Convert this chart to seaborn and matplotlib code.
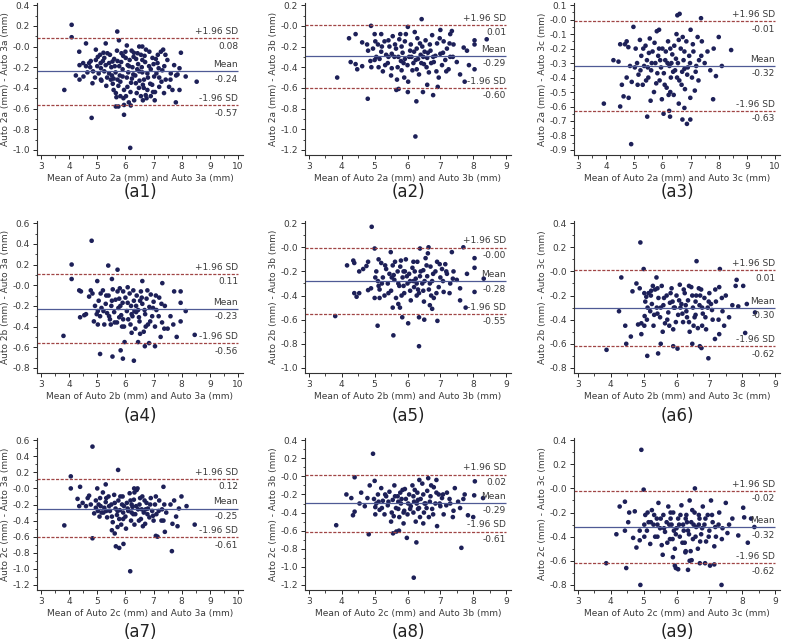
import numpy as np
import matplotlib
matplotlib.use("Agg")
import matplotlib.pyplot as plt
from matplotlib.ticker import MultipleLocator, FormatStrFormatter
import seaborn as sns

# Bland-Altman data: (mean of the two, difference)
a1_pts = [(4.09, 0.21), (4.09, 0.09), (5.71, 0.145), (5.77, 0.06), (3.83, -0.42), (4.8, -0.69), (6.17, -0.98),
          (5.95, -0.66), (8.53, -0.34), (7.97, -0.06), (8.14, -0.29), (7.79, -0.54), (7.92, -0.42), (7.92, -0.21),
          (5.66, -0.58), (5.75, -0.58), (6.19, -0.57), (5.95, -0.565), (4.6, 0.03), (5.3, 0.03), (6.05, 0.01),
          (6.49, 0.0), (6.6, 0.0), (7.34, -0.03), (4.36, -0.05), (4.37, -0.18), (4.24, -0.28), (4.37, -0.32),
          (4.51, -0.29), (4.6, -0.19), (4.71, -0.16), (4.77, -0.14), (4.83, -0.355), (4.95, -0.03), (5.0, -0.19),
          (5.13, -0.21), (5.13, -0.32), (5.25, -0.11), (5.36, -0.065), (5.42, -0.26), (5.48, -0.32), (5.54, -0.145),
          (5.58, -0.42), (5.66, -0.45), (5.72, -0.32), (5.78, -0.19), (5.86, -0.065), (5.9, -0.29), (5.93, -0.5),
          (6.01, -0.11), (6.07, -0.39), (6.13, -0.19), (6.23, -0.31), (6.29, -0.1), (6.31, -0.52), (6.37, -0.355),
          (6.43, -0.065), (6.49, -0.24), (6.55, -0.48), (6.6, -0.13), (6.66, -0.32), (6.73, -0.03), (6.78, -0.42),
          (6.84, -0.19), (6.9, -0.48), (6.96, -0.11), (7.02, -0.29), (7.04, -0.52), (7.14, -0.16), (7.2, -0.39),
          (7.26, -0.05), (7.31, -0.23), (7.37, -0.45), (7.43, -0.32), (7.49, -0.13), (7.55, -0.39), (7.61, -0.26),
          (7.67, -0.42), (7.73, -0.18), (7.85, -0.27), (5.2, -0.14), (5.25, -0.24), (5.3, -0.18), (5.35, -0.3),
          (5.45, -0.08), (5.5, -0.2), (5.55, -0.36), (5.6, -0.12), (5.65, -0.25), (5.7, -0.04), (5.75, -0.38),
          (5.8, -0.28), (5.85, -0.15), (5.9, -0.22), (5.95, -0.42), (6.0, -0.05), (6.05, -0.3), (6.1, -0.25),
          (6.15, -0.13), (6.2, -0.35), (6.25, -0.2), (6.3, -0.06), (6.35, -0.28), (6.4, -0.45), (6.45, -0.17),
          (6.5, -0.33), (6.55, -0.08), (6.6, -0.25), (6.65, -0.4), (6.7, -0.15), (6.75, -0.5), (6.8, -0.3),
          (6.85, -0.05), (6.9, -0.22), (6.95, -0.37), (7.0, -0.17), (7.05, -0.44), (7.1, -0.26), (7.15, -0.08),
          (7.2, -0.3), (5.05, -0.26), (5.1, -0.08), (5.15, -0.33), (4.95, -0.13), (4.85, -0.24), (4.75, -0.2),
          (4.65, -0.25), (4.5, -0.16), (6.02, -0.48), (6.12, -0.54), (5.82, -0.48), (6.62, -0.52), (6.72, -0.47),
          (7.42, -0.08), (7.6, -0.32), (7.8, -0.28), (5.22, -0.06), (5.32, -0.38), (5.42, -0.16), (5.52, -0.28),
          (5.62, -0.19), (5.72, -0.14), (5.82, -0.34), (5.92, -0.09), (6.08, -0.18), (6.18, -0.44), (6.28, -0.27),
          (6.38, -0.12), (6.48, -0.4), (6.58, -0.2), (6.68, -0.09), (6.78, -0.26), (6.88, -0.36), (6.98, -0.44),
          (7.08, -0.12), (7.18, -0.21), (7.28, -0.34), (7.38, -0.19), (4.92, -0.3), (5.02, -0.1), (5.12, -0.16),
          (6.22, -0.04), (6.42, -0.22), (6.62, -0.37), (5.58, -0.31), (5.68, -0.49)]

a2_pts = [(6.43, 0.065), (4.89, 0.0), (6.01, -0.01), (3.86, -0.5), (4.79, -0.705), (6.24, -1.07), (6.27, -0.73),
          (5.66, -0.62), (5.73, -0.61), (6.01, -0.64), (6.47, -0.64), (6.6, -0.57), (6.92, -0.59), (6.78, -0.67),
          (7.74, -0.54), (7.6, -0.47), (8.04, -0.14), (8.04, -0.18), (8.41, -0.13), (8.04, -0.42), (7.87, -0.38),
          (4.22, -0.12), (4.42, -0.08), (4.27, -0.35), (4.42, -0.37), (4.47, -0.42), (4.62, -0.16), (4.62, -0.39),
          (4.77, -0.18), (4.8, -0.24), (4.87, -0.34), (4.9, -0.4), (5.0, -0.08), (5.2, -0.08), (7.0, -0.04),
          (7.35, -0.05), (7.3, -0.08), (7.71, -0.21), (7.81, -0.24), (5.05, -0.3), (5.1, -0.18), (5.15, -0.32),
          (5.2, -0.25), (5.25, -0.44), (5.3, -0.15), (5.35, -0.28), (5.4, -0.36), (5.45, -0.2), (5.5, -0.48),
          (5.55, -0.1), (5.6, -0.3), (5.65, -0.22), (5.7, -0.4), (5.75, -0.13), (5.8, -0.34), (5.85, -0.26),
          (5.9, -0.5), (5.95, -0.08), (6.0, -0.38), (6.05, -0.3), (6.1, -0.18), (6.15, -0.43), (6.2, -0.25),
          (6.25, -0.33), (6.3, -0.12), (6.35, -0.47), (6.4, -0.28), (6.45, -0.2), (6.5, -0.37), (6.55, -0.14),
          (6.6, -0.31), (6.65, -0.45), (6.7, -0.24), (6.75, -0.09), (6.8, -0.35), (6.85, -0.29), (6.9, -0.17),
          (6.95, -0.5), (7.0, -0.27), (7.05, -0.38), (7.1, -0.15), (7.15, -0.33), (7.2, -0.22), (7.25, -0.42),
          (7.3, -0.3), (7.4, -0.18), (7.5, -0.35), (5.52, -0.27), (5.82, -0.2), (6.12, -0.3), (6.42, -0.36),
          (5.68, -0.52), (6.02, -0.54), (6.28, -0.22), (5.42, -0.3), (5.92, -0.32), (6.62, -0.26), (4.95, -0.22),
          (5.0, -0.33), (5.22, -0.2), (5.32, -0.38), (5.42, -0.14), (5.52, -0.41), (5.62, -0.18), (5.72, -0.3),
          (5.82, -0.43), (5.92, -0.15), (6.08, -0.24), (6.18, -0.36), (6.28, -0.42), (6.38, -0.17), (6.48, -0.3),
          (6.58, -0.4), (6.68, -0.18), (6.78, -0.3), (6.88, -0.44), (6.98, -0.12), (7.08, -0.26), (7.18, -0.44),
          (7.28, -0.17), (7.38, -0.3), (5.12, -0.4), (5.02, -0.15), (6.22, -0.06), (6.52, -0.25), (6.72, -0.36),
          (5.78, -0.08), (5.88, -0.36), (6.32, -0.32)]

a3_pts = [(6.53, 0.03), (6.61, 0.04), (7.37, 0.01), (4.97, -0.05), (3.92, -0.58), (4.89, -0.86), (4.5, -0.6),
          (4.62, -0.53), (4.8, -0.54), (5.46, -0.67), (6.24, -0.63), (6.04, -0.65), (6.27, -0.67), (6.71, -0.69),
          (6.87, -0.72), (6.99, -0.69), (6.78, -0.61), (6.99, -0.54), (7.15, -0.49), (7.8, -0.55), (8.44, -0.21),
          (8.0, -0.12), (7.82, -0.2), (7.9, -0.39), (8.11, -0.32), (4.26, -0.28), (4.44, -0.29), (4.5, -0.17),
          (4.67, -0.17), (4.73, -0.15), (4.79, -0.19), (4.56, -0.45), (4.73, -0.4), (4.91, -0.43), (4.85, -0.32),
          (5.05, -0.2), (5.1, -0.3), (5.15, -0.38), (5.2, -0.14), (5.25, -0.25), (5.3, -0.45), (5.35, -0.32),
          (5.4, -0.18), (5.45, -0.28), (5.5, -0.4), (5.55, -0.13), (5.6, -0.35), (5.65, -0.22), (5.7, -0.5),
          (5.75, -0.3), (5.8, -0.08), (5.85, -0.25), (5.9, -0.42), (5.95, -0.33), (6.0, -0.2), (6.05, -0.37),
          (6.1, -0.28), (6.15, -0.47), (6.2, -0.15), (6.25, -0.32), (6.3, -0.4), (6.35, -0.24), (6.4, -0.52),
          (6.45, -0.35), (6.5, -0.1), (6.55, -0.3), (6.6, -0.42), (6.65, -0.2), (6.7, -0.36), (6.75, -0.28),
          (6.8, -0.48), (6.85, -0.15), (6.9, -0.33), (6.95, -0.25), (7.0, -0.07), (7.05, -0.4), (7.1, -0.22),
          (7.2, -0.32), (7.3, -0.28), (7.4, -0.15), (7.5, -0.3), (7.6, -0.22), (7.7, -0.35), (5.58, -0.56),
          (5.98, -0.55), (6.28, -0.5), (6.58, -0.58), (5.88, -0.07), (6.12, -0.22), (5.48, -0.33), (6.42, -0.18),
          (6.78, -0.34), (7.25, -0.12), (5.22, -0.35), (5.32, -0.2), (5.42, -0.42), (5.52, -0.23), (5.62, -0.3),
          (5.72, -0.16), (5.82, -0.37), (5.92, -0.28), (6.08, -0.45), (6.18, -0.3), (6.28, -0.2), (6.38, -0.36),
          (6.48, -0.27), (6.58, -0.14), (6.68, -0.45), (6.78, -0.22), (6.88, -0.38), (6.98, -0.3), (7.08, -0.17),
          (7.18, -0.36), (7.28, -0.42), (7.38, -0.25), (5.12, -0.45), (5.02, -0.33), (6.22, -0.52), (6.52, -0.4),
          (6.72, -0.12), (5.78, -0.44), (5.88, -0.2), (6.32, -0.3)]

a4_pts = [(4.8, 0.43), (4.09, 0.2), (4.09, 0.06), (5.39, 0.19), (5.72, 0.15), (5.0, 0.04), (5.52, 0.06),
          (6.6, 0.04), (7.31, 0.02), (3.8, -0.49), (5.1, -0.665), (5.54, -0.69), (5.91, -0.71), (6.3, -0.73),
          (5.83, -0.63), (5.97, -0.55), (6.45, -0.55), (6.69, -0.59), (7.05, -0.59), (6.84, -0.56), (8.46, -0.48),
          (7.82, -0.5), (8.14, -0.25), (7.96, -0.06), (7.73, -0.06), (7.96, -0.17), (7.96, -0.35), (4.36, -0.05),
          (4.42, -0.06), (4.39, -0.31), (4.54, -0.29), (4.6, -0.28), (4.77, -0.05), (4.83, -0.08), (4.71, -0.11),
          (5.05, -0.15), (5.1, -0.3), (5.15, -0.22), (5.2, -0.05), (5.25, -0.38), (5.3, -0.18), (5.35, -0.27),
          (5.4, -0.1), (5.45, -0.33), (5.5, -0.2), (5.55, -0.04), (5.6, -0.26), (5.65, -0.14), (5.7, -0.36),
          (5.75, -0.22), (5.8, -0.03), (5.85, -0.29), (5.9, -0.17), (5.95, -0.4), (6.0, -0.12), (6.05, -0.25),
          (6.1, -0.33), (6.15, -0.08), (6.2, -0.2), (6.25, -0.3), (6.3, -0.15), (6.35, -0.42), (6.4, -0.1),
          (6.45, -0.24), (6.5, -0.35), (6.55, -0.06), (6.6, -0.18), (6.65, -0.45), (6.7, -0.28), (6.75, -0.13),
          (6.8, -0.38), (6.85, -0.21), (6.9, -0.09), (6.95, -0.3), (7.0, -0.16), (7.05, -0.4), (7.1, -0.24),
          (7.2, -0.12), (7.3, -0.36), (7.4, -0.2), (7.5, -0.42), (7.6, -0.3), (7.7, -0.38), (5.48, -0.38),
          (5.78, -0.31), (6.08, -0.02), (6.38, -0.26), (5.92, -0.06), (6.22, -0.46), (6.52, -0.47), (5.02, -0.25),
          (4.92, -0.2), (4.88, -0.35), (4.98, -0.28), (7.25, -0.5), (5.22, -0.25), (5.32, -0.1), (5.42, -0.3),
          (5.52, -0.15), (5.62, -0.36), (5.72, -0.06), (5.82, -0.2), (5.92, -0.33), (6.08, -0.17), (6.18, -0.38),
          (6.28, -0.05), (6.38, -0.2), (6.48, -0.31), (6.58, -0.12), (6.68, -0.24), (6.78, -0.05), (6.88, -0.35),
          (6.98, -0.22), (7.08, -0.1), (7.18, -0.3), (7.28, -0.18), (7.38, -0.42), (5.12, -0.08), (5.02, -0.38),
          (6.22, -0.28), (6.52, -0.15), (6.72, -0.4), (5.78, -0.13), (5.88, -0.4), (6.32, -0.25)]

a5_pts = [(4.91, 0.17), (5.0, -0.01), (5.49, -0.04), (6.38, -0.01), (6.64, 0.0), (7.7, 0.0), (7.35, -0.04),
          (3.8, -0.57), (5.09, -0.65), (5.57, -0.73), (6.35, -0.82), (6.02, -0.63), (5.84, -0.58), (6.35, -0.58),
          (6.51, -0.6), (6.91, -0.61), (5.55, -0.5), (5.77, -0.5), (6.68, -0.48), (6.75, -0.51), (7.6, -0.44),
          (7.77, -0.5), (8.04, -0.09), (8.04, -0.17), (8.04, -0.37), (8.32, -0.26), (7.81, -0.22), (4.16, -0.15),
          (4.35, -0.11), (4.38, -0.13), (4.38, -0.38), (4.45, -0.41), (4.53, -0.38), (4.53, -0.2), (4.65, -0.18),
          (4.75, -0.155), (4.8, -0.12), (4.8, -0.355), (4.89, -0.34), (5.0, -0.42), (5.15, -0.42), (5.05, -0.2),
          (5.1, -0.28), (5.15, -0.35), (5.2, -0.13), (5.25, -0.25), (5.3, -0.4), (5.35, -0.18), (5.4, -0.3),
          (5.45, -0.22), (5.5, -0.36), (5.55, -0.15), (5.6, -0.27), (5.65, -0.42), (5.7, -0.2), (5.75, -0.32),
          (5.8, -0.11), (5.85, -0.25), (5.9, -0.38), (5.95, -0.1), (6.0, -0.3), (6.05, -0.22), (6.1, -0.44),
          (6.15, -0.17), (6.2, -0.33), (6.25, -0.26), (6.3, -0.12), (6.35, -0.38), (6.4, -0.2), (6.45, -0.3),
          (6.5, -0.45), (6.55, -0.09), (6.6, -0.24), (6.65, -0.35), (6.7, -0.16), (6.75, -0.28), (6.8, -0.42),
          (6.85, -0.2), (6.9, -0.12), (6.95, -0.33), (7.0, -0.25), (7.05, -0.18), (7.1, -0.37), (7.2, -0.22),
          (7.3, -0.3), (7.4, -0.2), (7.5, -0.27), (7.6, -0.34), (5.58, -0.23), (5.88, -0.2), (6.18, -0.28),
          (6.48, -0.19), (5.72, -0.47), (6.08, -0.36), (5.98, -0.24), (6.28, -0.4), (6.62, -0.05), (5.12, -0.1),
          (7.15, -0.14), (5.22, -0.3), (5.32, -0.15), (5.42, -0.38), (5.52, -0.25), (5.62, -0.12), (5.72, -0.3),
          (5.82, -0.4), (5.92, -0.2), (6.08, -0.28), (6.18, -0.12), (6.28, -0.3), (6.38, -0.24), (6.48, -0.36),
          (6.58, -0.15), (6.68, -0.3), (6.78, -0.22), (6.88, -0.38), (6.98, -0.14), (7.08, -0.28), (7.18, -0.2),
          (7.28, -0.38), (7.38, -0.26), (5.12, -0.32), (5.02, -0.25), (6.22, -0.2), (6.52, -0.28), (6.72, -0.4),
          (5.78, -0.16), (5.88, -0.32), (6.32, -0.35)]

a6_pts = [(4.9, 0.24), (5.0, 0.02), (6.61, 0.085), (7.32, 0.02), (3.87, -0.65), (4.32, -0.05), (4.25, -0.33),
          (4.44, -0.45), (4.47, -0.6), (4.61, -0.54), (5.11, -0.7), (5.44, -0.68), (5.52, -0.6), (5.9, -0.62),
          (6.03, -0.64), (6.48, -0.6), (6.71, -0.62), (6.76, -0.635), (6.97, -0.72), (7.17, -0.56), (7.3, -0.52),
          (8.09, -0.51), (7.88, -0.29), (8.03, -0.12), (7.83, -0.07), (8.14, -0.27), (8.39, -0.34), (4.66, -0.165),
          (4.78, -0.1), (4.88, -0.14), (4.83, -0.44), (4.93, -0.43), (4.93, -0.52), (5.03, -0.37), (5.08, -0.21),
          (5.23, -0.16), (5.28, -0.12), (5.39, -0.05), (5.05, -0.25), (5.1, -0.4), (5.15, -0.18), (5.2, -0.33),
          (5.25, -0.27), (5.3, -0.45), (5.35, -0.15), (5.4, -0.3), (5.45, -0.22), (5.5, -0.38), (5.55, -0.12),
          (5.6, -0.28), (5.65, -0.43), (5.7, -0.2), (5.75, -0.34), (5.8, -0.26), (5.85, -0.14), (5.9, -0.48),
          (5.95, -0.3), (6.0, -0.2), (6.05, -0.36), (6.1, -0.11), (6.15, -0.27), (6.2, -0.42), (6.25, -0.18),
          (6.3, -0.33), (6.35, -0.24), (6.4, -0.5), (6.45, -0.13), (6.5, -0.3), (6.55, -0.38), (6.6, -0.2),
          (6.65, -0.47), (6.7, -0.28), (6.75, -0.15), (6.8, -0.35), (6.85, -0.22), (6.9, -0.48), (6.95, -0.3),
          (7.0, -0.18), (7.1, -0.4), (7.2, -0.25), (7.3, -0.13), (7.4, -0.33), (7.5, -0.2), (7.6, -0.38),
          (7.7, -0.28), (7.8, -0.12), (5.58, -0.5), (5.98, -0.42), (6.38, -0.12), (6.78, -0.45), (6.12, -0.3),
          (5.42, -0.35), (6.58, -0.25), (7.05, -0.27), (5.02, -0.18), (7.45, -0.45), (5.22, -0.2), (5.32, -0.36),
          (5.42, -0.14), (5.52, -0.3), (5.62, -0.22), (5.72, -0.4), (5.82, -0.18), (5.92, -0.3), (6.08, -0.24),
          (6.18, -0.35), (6.28, -0.28), (6.38, -0.42), (6.48, -0.2), (6.58, -0.36), (6.68, -0.14), (6.78, -0.3),
          (6.88, -0.38), (6.98, -0.25), (7.08, -0.32), (7.18, -0.15), (7.28, -0.4), (7.38, -0.22), (5.12, -0.3),
          (5.02, -0.45), (6.22, -0.15), (6.52, -0.45), (6.72, -0.2), (5.78, -0.45), (5.88, -0.25), (6.32, -0.38)]

a7_pts = [(4.83, 0.52), (5.74, 0.23), (4.06, 0.15), (4.06, 0.0), (4.39, 0.02), (5.0, 0.0), (5.3, 0.05),
          (3.83, -0.46), (4.83, -0.62), (5.66, -0.72), (5.78, -0.74), (5.93, -0.69), (6.17, -1.03), (5.62, -0.56),
          (7.14, -0.6), (7.08, -0.59), (7.65, -0.78), (8.46, -0.45), (8.17, -0.22), (7.99, -0.1), (7.73, -0.15),
          (7.9, -0.25), (7.85, -0.47), (7.67, -0.44), (7.4, -0.54), (7.35, 0.02), (6.31, 0.0), (6.43, 0.0),
          (4.3, -0.13), (4.36, -0.22), (4.48, -0.18), (4.6, -0.22), (4.66, -0.12), (4.71, -0.09), (4.77, -0.2),
          (4.89, -0.31), (4.95, -0.24), (5.05, -0.2), (5.1, -0.12), (5.15, -0.3), (5.2, -0.05), (5.25, -0.24),
          (5.3, -0.17), (5.35, -0.36), (5.4, -0.1), (5.45, -0.28), (5.5, -0.2), (5.55, -0.42), (5.6, -0.08),
          (5.65, -0.25), (5.7, -0.33), (5.75, -0.15), (5.8, -0.27), (5.85, -0.45), (5.9, -0.1), (5.95, -0.22),
          (6.0, -0.35), (6.05, -0.18), (6.1, -0.28), (6.15, -0.06), (6.2, -0.4), (6.25, -0.23), (6.3, -0.14),
          (6.35, -0.32), (6.4, -0.02), (6.45, -0.26), (6.5, -0.2), (6.55, -0.38), (6.6, -0.1), (6.65, -0.3),
          (6.7, -0.44), (6.75, -0.18), (6.8, -0.25), (6.85, -0.36), (6.9, -0.12), (6.95, -0.28), (7.0, -0.4),
          (7.05, -0.2), (7.1, -0.32), (7.2, -0.15), (7.3, -0.26), (7.35, -0.4), (7.45, -0.3), (7.6, -0.2),
          (7.8, -0.35), (5.52, -0.52), (5.72, -0.48), (6.02, -0.5), (6.32, -0.45), (6.62, -0.47), (5.32, -0.28),
          (5.92, -0.3), (6.22, -0.2), (5.08, -0.35), (4.95, -0.15), (5.22, -0.3), (5.32, -0.12), (5.42, -0.22),
          (5.52, -0.35), (5.62, -0.18), (5.72, -0.28), (5.82, -0.1), (5.92, -0.38), (6.08, -0.25), (6.18, -0.15),
          (6.28, -0.32), (6.38, -0.22), (6.48, -0.4), (6.58, -0.26), (6.68, -0.15), (6.78, -0.32), (6.88, -0.2),
          (6.98, -0.34), (7.08, -0.1), (7.18, -0.28), (7.28, -0.4), (7.38, -0.2), (5.12, -0.22), (5.02, -0.28),
          (6.22, -0.3), (6.52, -0.12), (6.72, -0.26), (5.78, -0.38), (5.88, -0.2), (6.32, -0.05)]

a8_pts = [(4.95, 0.25), (4.39, -0.01), (5.0, -0.05), (3.83, -0.54), (4.34, -0.43), (4.82, -0.64), (5.56, -0.63),
          (5.66, -0.61), (5.74, -0.6), (5.98, -0.68), (6.27, -0.73), (6.19, -1.12), (7.64, -0.79), (8.05, -0.055),
          (8.03, -0.21), (8.3, -0.24), (7.84, -0.43), (8.0, -0.45), (7.74, -0.2), (7.54, -0.28), (7.44, -0.13),
          (4.14, -0.2), (4.29, -0.24), (4.39, -0.39), (4.54, -0.3), (4.59, -0.18), (4.7, -0.33), (4.78, -0.24),
          (4.85, -0.1), (6.63, -0.02), (6.88, -0.04), (6.36, -0.04), (5.05, -0.3), (5.1, -0.2), (5.15, -0.37),
          (5.2, -0.13), (5.25, -0.27), (5.3, -0.42), (5.35, -0.22), (5.4, -0.32), (5.45, -0.17), (5.5, -0.5),
          (5.55, -0.26), (5.6, -0.1), (5.65, -0.35), (5.7, -0.22), (5.75, -0.45), (5.8, -0.3), (5.85, -0.15),
          (5.9, -0.38), (5.95, -0.25), (6.0, -0.42), (6.05, -0.2), (6.1, -0.33), (6.15, -0.1), (6.2, -0.28),
          (6.25, -0.5), (6.3, -0.18), (6.35, -0.35), (6.4, -0.25), (6.45, -0.08), (6.5, -0.4), (6.55, -0.3),
          (6.6, -0.16), (6.65, -0.45), (6.7, -0.22), (6.75, -0.36), (6.8, -0.12), (6.85, -0.3), (6.9, -0.55),
          (6.95, -0.2), (7.0, -0.33), (7.05, -0.24), (7.1, -0.42), (7.2, -0.18), (7.3, -0.3), (7.4, -0.38),
          (5.58, -0.44), (5.88, -0.52), (6.18, -0.4), (6.48, -0.52), (5.72, -0.28), (6.02, -0.3), (6.32, -0.36),
          (5.02, -0.42), (4.98, -0.25), (7.6, -0.35), (7.7, -0.25), (5.22, -0.35), (5.32, -0.2), (5.42, -0.28),
          (5.52, -0.4), (5.62, -0.22), (5.72, -0.36), (5.82, -0.25), (5.92, -0.14), (6.08, -0.36), (6.18, -0.22),
          (6.28, -0.3), (6.38, -0.45), (6.48, -0.2), (6.58, -0.35), (6.68, -0.28), (6.78, -0.42), (6.88, -0.18),
          (6.98, -0.3), (7.08, -0.2), (7.18, -0.32), (7.28, -0.25), (7.38, -0.45), (5.12, -0.28), (5.02, -0.34),
          (6.22, -0.15), (6.52, -0.3), (6.72, -0.1), (5.78, -0.18), (5.88, -0.4), (6.32, -0.26)]

a9_pts = [(4.93, 0.32), (5.0, -0.01), (6.56, 0.0), (3.86, -0.62), (4.47, -0.66), (4.9, -0.8), (7.37, -0.8),
          (5.95, -0.64), (6.05, -0.67), (6.35, -0.675), (5.98, -0.66), (6.4, -0.6), (6.46, -0.595), (6.71, -0.62),
          (6.87, -0.62), (7.02, -0.64), (7.15, -0.63), (5.89, -0.57), (6.27, -0.53), (6.43, -0.52), (7.88, -0.39),
          (8.17, -0.45), (8.06, -0.24), (8.03, -0.16), (8.27, -0.25), (8.37, -0.32), (4.17, -0.38), (4.27, -0.15),
          (4.43, -0.11), (4.43, -0.35), (4.53, -0.28), (4.56, -0.2), (4.68, -0.41), (4.73, -0.19), (4.78, -0.49),
          (4.88, -0.35), (4.88, -0.43), (5.05, -0.22), (5.1, -0.35), (5.15, -0.28), (5.2, -0.46), (5.25, -0.18),
          (5.3, -0.3), (5.35, -0.4), (5.4, -0.25), (5.45, -0.12), (5.5, -0.33), (5.55, -0.47), (5.6, -0.22),
          (5.65, -0.36), (5.7, -0.28), (5.75, -0.15), (5.8, -0.42), (5.85, -0.3), (5.9, -0.2), (5.95, -0.5),
          (6.0, -0.33), (6.05, -0.25), (6.1, -0.4), (6.15, -0.14), (6.2, -0.3), (6.25, -0.45), (6.3, -0.22),
          (6.35, -0.35), (6.4, -0.1), (6.45, -0.28), (6.5, -0.42), (6.55, -0.2), (6.6, -0.32), (6.65, -0.5),
          (6.7, -0.25), (6.75, -0.38), (6.8, -0.15), (6.85, -0.3), (6.9, -0.44), (6.95, -0.22), (7.0, -0.35),
          (7.05, -0.1), (7.1, -0.28), (7.2, -0.4), (7.3, -0.2), (7.4, -0.33), (7.5, -0.12), (7.6, -0.3),
          (7.7, -0.25), (5.58, -0.55), (5.98, -0.38), (6.28, -0.52), (6.68, -0.3), (6.12, -0.22), (5.42, -0.3),
          (5.82, -0.25), (7.15, -0.48), (7.55, -0.37), (5.02, -0.3), (5.22, -0.28), (5.32, -0.22), (5.42, -0.4),
          (5.52, -0.25), (5.62, -0.33), (5.72, -0.45), (5.82, -0.2), (5.92, -0.35), (6.08, -0.3), (6.18, -0.45),
          (6.28, -0.25), (6.38, -0.38), (6.48, -0.18), (6.58, -0.4), (6.68, -0.22), (6.78, -0.33), (6.88, -0.25),
          (6.98, -0.4), (7.08, -0.22), (7.18, -0.32), (7.28, -0.3), (7.38, -0.42), (5.12, -0.2), (5.02, -0.4),
          (6.22, -0.35), (6.52, -0.3), (6.72, -0.44), (5.78, -0.3), (5.88, -0.42), (6.32, -0.28)]

all_pts = [a1_pts, a2_pts, a3_pts, a4_pts, a5_pts, a6_pts, a7_pts, a8_pts, a9_pts]

# limits of agreement and mean difference
upper_sd = [0.08, 0.01, -0.01, 0.11, -0.002, 0.01, 0.12, 0.02, -0.02]
mean_diff = [-0.24, -0.29, -0.32, -0.23, -0.28, -0.30, -0.25, -0.29, -0.32]
lower_sd = [-0.57, -0.60, -0.63, -0.56, -0.55, -0.62, -0.61, -0.61, -0.62]

# axes ticks
x_last = [10, 9, 10, 10, 9, 9, 10, 9, 9]
y_first = [-1.0, -1.2, -0.9, -0.8, -1.0, -0.8, -1.2, -1.2, -0.8]
y_last = [0.4, 0.2, 0.1, 0.6, 0.2, 0.4, 0.6, 0.4, 0.4]
y_step = [0.2, 0.2, 0.1, 0.2, 0.2, 0.2, 0.2, 0.2, 0.2]

row_names = ['2a', '2b', '2c']
col_names = ['3a', '3b', '3c']
panel_tags = ['(a1)', '(a2)', '(a3)', '(a4)', '(a5)', '(a6)', '(a7)', '(a8)', '(a9)']

sns.set_theme(style="ticks")
plt.rcParams['font.family'] = ['DejaVu Sans']
plt.rcParams['axes.unicode_minus'] = False

fig = plt.figure(figsize=(7.85, 6.4), dpi=100)

col_left = [37, 305, 574]
col_width = 206
row_top = [3, 221, 438]
row_bottom = [155, 373, 590]
tag_y = [192, 416, 632]

dot_col = '#1d2058'
sd_col = '#a04545'
mean_col = '#4f5a95'
txt_col = '#3a3a3a'

for i in range(9):
    r, c = divmod(i, 3)
    left = col_left[c] / 785
    bottom = 1 - row_bottom[r] / 640
    ax = fig.add_axes([left, bottom, col_width / 785, (row_bottom[r] - row_top[r]) / 640])

    xs = [p[0] for p in all_pts[i]]
    ys = [p[1] for p in all_pts[i]]
    sns.scatterplot(x=xs, y=ys, ax=ax, color=dot_col, s=11, edgecolor='none', linewidth=0)

    xr = x_last[i] - 3
    ax.set_xlim(3 - 0.02 * xr, x_last[i] + 0.025 * xr)
    yr = y_last[i] - y_first[i]
    ax.set_ylim(y_first[i] - 0.035 * yr, y_last[i] + 0.015 * yr)

    x0 = ax.get_xlim()[0]
    ax.hlines([upper_sd[i], lower_sd[i]], x0, x_last[i], colors=sd_col, linestyles=(0, (2.5, 1.2)), linewidth=0.9)
    ax.hlines(mean_diff[i], x0, x_last[i], colors=mean_col, linewidth=0.9)

    lbls = [('+1.96 SD', upper_sd[i]), ('Mean', mean_diff[i]), ('-1.96 SD', lower_sd[i])]
    for name, v in lbls:
        ax.annotate(name, (x_last[i], v), xytext=(0, 1.5), textcoords='offset points',
                    ha='right', va='bottom', fontsize=6.5, color=txt_col)
        ax.annotate(f"{v:.2f}", (x_last[i], v), xytext=(0, -2.5), textcoords='offset points',
                    ha='right', va='top', fontsize=6.5, color=txt_col)

    ax.set_xticks(np.arange(3, x_last[i] + 0.5, 1))
    ax.xaxis.set_minor_locator(MultipleLocator(0.5))
    ax.set_yticks(np.round(np.arange(y_first[i], y_last[i] + y_step[i] / 2, y_step[i]), 2))
    ax.yaxis.set_minor_locator(MultipleLocator(y_step[i] / 2))
    ax.yaxis.set_major_formatter(FormatStrFormatter('%.1f'))
    ax.tick_params(which='major', direction='out', length=3, width=0.7, labelsize=6.5, labelcolor=txt_col, pad=2)
    ax.tick_params(which='minor', direction='out', length=1.8, width=0.6)
    sns.despine(ax=ax)
    for s in ['left', 'bottom']:
        ax.spines[s].set_linewidth(0.8)
        ax.spines[s].set_color('#333333')

    ax.set_xlabel(f"Mean of Auto {row_names[r]} (mm) and Auto {col_names[c]} (mm)", fontsize=6.5,
                  color=txt_col, labelpad=2)
    ax.set_ylabel(f"Auto {row_names[r]} (mm) - Auto {col_names[c]} (mm)", fontsize=6.5,
                  color=txt_col, labelpad=2)

    fig.text(left + col_width / 785 / 2, 1 - tag_y[r] / 640, panel_tags[i], ha='center', va='center',
             fontsize=12, color='#222222')

fig.savefig('out.png', dpi=100)
